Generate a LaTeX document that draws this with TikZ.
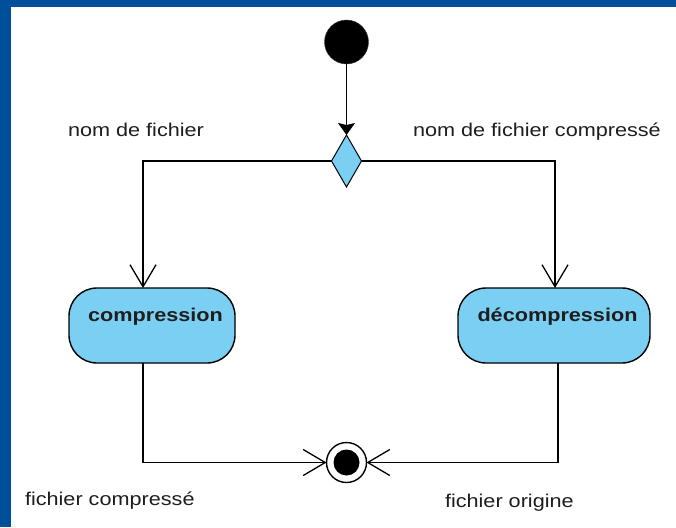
\documentclass[tikz,border=0pt]{standalone}
\usepackage{fontspec}
\setmainfont[FakeStretch=1.17]{Liberation Sans}
\usetikzlibrary{arrows.meta,shapes.geometric,calc}
\definecolor{frameblue}{RGB}{0,79,155}
\definecolor{actfill}{RGB}{122,207,243}
\definecolor{ink}{RGB}{30,30,30}

\begin{document}
\begin{tikzpicture}[x=1pt,y=-1pt,
  every node/.style={inner sep=0pt, outer sep=0pt},
  lbl/.style={font=\fontsize{18.5}{22}\selectfont, text=ink},
  acttext/.style={font=\fontsize{18.5}{22}\selectfont\bfseries, text=ink},
  activity/.style={rectangle, rounded corners=28pt, draw=black, line width=1.4pt, fill=actfill},
  decision/.style={diamond, draw=black, line width=1pt, fill=actfill, minimum width=30pt, minimum height=52pt},
  initnode/.style={circle, fill=black, draw=black!80, minimum size=44pt},
  finalnode/.style={circle, draw=black, line width=1.4pt, fill=white, minimum size=40pt,
    path picture={\fill[black] (path picture bounding box.center) circle (13pt);}},
  flow/.style={draw=black, line width=1.3pt, line join=miter},
  openflow/.style={flow, -{Straight Barb[length=22pt,width=26pt]}},
  firstflow/.style={flow, -{Stealth[length=12pt,width=17pt,inset=2pt]}}
]
% page and blue frame strips
\useasboundingbox (0,0) rectangle (676,527);
\fill[white] (0,0) rectangle (676,527);
\fill[frameblue] (0,0) rectangle (676,7);
\fill[frameblue] (0,0) rectangle (11,527);

% nodes
\node[initnode] (start) at (346.5,42) {};
\node[decision] (dec) at (346.5,161) {};
\node[activity, minimum width=166pt, minimum height=75pt] (comp) at (152,325.5) {};
\node[activity, minimum width=192pt, minimum height=75pt] (decomp) at (554,325.5) {};
\node[finalnode] (end) at (346.5,462.5) {};

\node[acttext, anchor=base] (comptxt) at ($(comp.center)+(3.5,-4)$) {compression};
\node[acttext, anchor=base] (decomptxt) at ($(decomp.center)+(3.5,-4)$) {décompression};

% flows
\draw[firstflow] (start) -- (dec);
\draw[openflow] (dec.west) -| ($(comp.north)+(-9,0)$);
\draw[openflow] (dec.east) -| ($(decomp.north)+(1,0)$);
\draw[openflow] ($(comp.south)+(-9,0)$) |- (end.west);
\draw[openflow] ($(decomp.south)+(4,0)$) |- (end.east);

% guard labels
\node[lbl, anchor=base west] (g1) at (68,136) {nom de fichier};
\node[lbl, anchor=base west] (g2) at (413,136) {nom de fichier compressé};
\node[lbl, anchor=base west] (g3) at (25,505) {fichier compressé};
\node[lbl, anchor=base west] (g4) at (445,507) {fichier origine};
\end{tikzpicture}
\end{document}
